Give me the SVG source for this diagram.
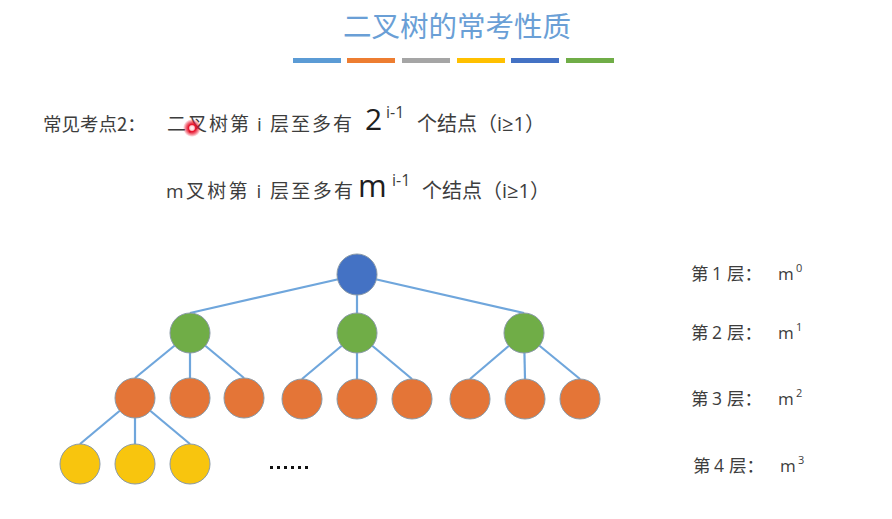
<svg xmlns="http://www.w3.org/2000/svg" width="892" height="519" viewBox="0 0 892 519">
<defs>
<style>
.t{font-family:"Noto Sans CJK SC","Open Sans",sans-serif;fill:#3d3d3d}
.l{font-family:"Open Sans","Noto Sans CJK SC",sans-serif}
.big{font-family:"Open Sans","Noto Sans CJK SC",sans-serif;fill:#1e1e1e}
.edge{stroke:#6fa6dc;stroke-width:2.2;fill:none}
.n{stroke:#8a9aa8;stroke-width:1}
.blue{fill:#4472C4}
.green{fill:#70AD47}
.orange{fill:#E47537}
.yellow{fill:#F8C50E}
</style>
<radialGradient id="dot" cx="0.5" cy="0.5" r="0.5">
<stop offset="0" stop-color="#ffffff"/>
<stop offset="0.25" stop-color="#ffd0d5"/>
<stop offset="0.4" stop-color="#e8102a"/>
<stop offset="0.7" stop-color="#e8102a" stop-opacity="0.55"/>
<stop offset="1" stop-color="#e8102a" stop-opacity="0"/>
</radialGradient>
</defs>
<rect width="892" height="519" fill="#ffffff"/>

<g id="title">
<text x="457" y="37" text-anchor="middle" font-family="Noto Sans CJK SC, sans-serif" font-size="28.5" fill="#6a9fd6">二叉树的常考性质</text>
<g>
<rect x="293" y="58" width="48" height="5" fill="#5B9BD5"/>
<rect x="347" y="58" width="48" height="5" fill="#ED7D31"/>
<rect x="402" y="58" width="48" height="5" fill="#A5A5A5"/>
<rect x="457" y="58" width="48" height="5" fill="#FFC000"/>
<rect x="511" y="58" width="48" height="5" fill="#4472C4"/>
<rect x="566" y="58" width="48" height="5" fill="#70AD47"/>
</g>
</g>

<g id="line1">
<text class="t" font-size="18.5" x="43" y="131">常见考点2：</text>
<text class="t" font-size="19" x="167" y="131" textLength="185" lengthAdjust="spacing">二叉树第 <tspan class="l">i</tspan> 层至多有</text>
<text class="big" font-size="30" x="365" y="130">2</text>
<text class="t l" font-size="16" x="386" y="118">i-1</text>
<text class="t" font-size="20" x="417" y="131">个结点（<tspan class="l">i≥1</tspan>）</text>
</g>
<circle cx="192" cy="128" r="9" fill="url(#dot)"/>

<g id="line2">
<text class="t" font-size="19" x="166" y="198" textLength="187" lengthAdjust="spacing"><tspan class="l">m</tspan>叉树第 <tspan class="l">i</tspan> 层至多有</text>
<text class="big" font-size="31" x="358" y="197">m</text>
<text class="t l" font-size="16" x="392" y="186">i-1</text>
<text class="t" font-size="20" x="422" y="198">个结点（<tspan class="l">i≥1</tspan>）</text>
</g>

<g id="connectors">
<line class="edge" x1="357" y1="275" x2="190" y2="313"/>
<line class="edge" x1="357" y1="275" x2="357" y2="313"/>
<line class="edge" x1="357" y1="275" x2="524" y2="313"/>
<line class="edge" x1="190" y1="333" x2="135" y2="378"/>
<line class="edge" x1="190" y1="333" x2="190" y2="378"/>
<line class="edge" x1="190" y1="333" x2="244" y2="378"/>
<line class="edge" x1="357" y1="333" x2="302" y2="379"/>
<line class="edge" x1="357" y1="333" x2="357" y2="379"/>
<line class="edge" x1="357" y1="333" x2="412" y2="379"/>
<line class="edge" x1="524" y1="333" x2="470" y2="379"/>
<line class="edge" x1="524" y1="333" x2="525" y2="379"/>
<line class="edge" x1="524" y1="333" x2="580" y2="379"/>
<line class="edge" x1="135" y1="398" x2="80" y2="444"/>
<line class="edge" x1="135" y1="398" x2="135" y2="444"/>
<line class="edge" x1="135" y1="398" x2="190" y2="444"/>
</g>

<g id="n1"><ellipse class="n blue" cx="357" cy="274.5" rx="20" ry="20.5"/></g>
<g id="n2a"><circle class="n green" cx="190" cy="333" r="20"/></g>
<g id="n2b"><circle class="n green" cx="357" cy="333" r="20"/></g>
<g id="n2c"><circle class="n green" cx="524" cy="333" r="20"/></g>
<g id="n3a"><circle class="n orange" cx="135" cy="398" r="20"/></g>
<g id="n3b"><circle class="n orange" cx="190" cy="398" r="20"/></g>
<g id="n3c"><circle class="n orange" cx="244" cy="398" r="20"/></g>
<g id="n3d"><circle class="n orange" cx="302" cy="399" r="20"/></g>
<g id="n3e"><circle class="n orange" cx="357" cy="399" r="20"/></g>
<g id="n3f"><circle class="n orange" cx="412" cy="399" r="20"/></g>
<g id="n3g"><circle class="n orange" cx="470" cy="399" r="20"/></g>
<g id="n3h"><circle class="n orange" cx="525" cy="399" r="20"/></g>
<g id="n3i"><circle class="n orange" cx="580" cy="399" r="20"/></g>
<g id="n4a"><circle class="n yellow" cx="80" cy="464" r="20"/></g>
<g id="n4b"><circle class="n yellow" cx="135" cy="464" r="20"/></g>
<g id="n4c"><circle class="n yellow" cx="190" cy="464" r="20"/></g>

<g id="ellipsis" fill="#111">
<rect x="270" y="466" width="3" height="3"/>
<rect x="277" y="466" width="3" height="3"/>
<rect x="284" y="466" width="3" height="3"/>
<rect x="291" y="466" width="3" height="3"/>
<rect x="298" y="466" width="3" height="3"/>
<rect x="305" y="466" width="3" height="3"/>
</g>

<g id="levels" class="t" font-size="17.5">
<text y="280"><tspan x="691">第</tspan><tspan class="l" x="712">1</tspan><tspan x="727">层：</tspan><tspan class="l" x="778" font-size="17">m</tspan><tspan class="l" x="796" dy="-8" font-size="11">0</tspan></text>
<text y="339"><tspan x="691">第</tspan><tspan class="l" x="712">2</tspan><tspan x="727">层：</tspan><tspan class="l" x="778" font-size="17">m</tspan><tspan class="l" x="796" dy="-8" font-size="11">1</tspan></text>
<text y="405"><tspan x="691">第</tspan><tspan class="l" x="712">3</tspan><tspan x="727">层：</tspan><tspan class="l" x="778" font-size="17">m</tspan><tspan class="l" x="796" dy="-8" font-size="11">2</tspan></text>
<text y="472"><tspan x="693">第</tspan><tspan class="l" x="714">4</tspan><tspan x="729">层：</tspan><tspan class="l" x="780" font-size="17">m</tspan><tspan class="l" x="798" dy="-8" font-size="11">3</tspan></text>
</g>
</svg>
